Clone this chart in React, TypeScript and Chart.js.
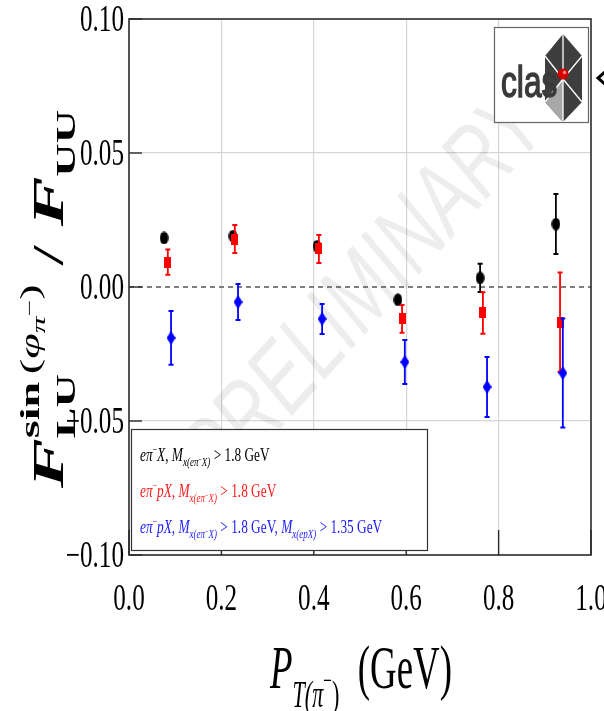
import React, { useEffect, useRef } from 'react';
import { Chart, registerables } from 'chart.js';

Chart.register(...registerables);

// ---------------- data ----------------
const blackX = [0.076, 0.225, 0.407, 0.582, 0.760, 0.924];
const blackY = [0.0183, 0.0190, 0.0152, -0.0048, 0.0034, 0.0235];
const blackErr = [0.0015, 0.0015, 0.0015, 0.0015, 0.0053, 0.0112];

const redX = [0.084, 0.229, 0.411, 0.591, 0.766, 0.933];
const redY = [0.0093, 0.0179, 0.0142, -0.0119, -0.0097, -0.0131];
const redErr = [0.0047, 0.0052, 0.0052, 0.0052, 0.0077, 0.0185];

const blueX = [0.091, 0.236, 0.418, 0.597, 0.775, 0.939];
const blueY = [-0.0190, -0.0056, -0.0119, -0.0280, -0.0373, -0.0321];
const blueErr = [0.0100, 0.0067, 0.0056, 0.0082, 0.0112, 0.0203];

const X_MIN = 0;
const X_MAX = 1;
const X_STEP = 0.2;
const Y_MIN = -0.1;
const Y_MAX = 0.1;
const Y_STEP = 0.05;

const COLORS = { black: '#000000', red: '#ff0000', blue: '#0000ff' };

// ---------------- text helpers ----------------
type Seg = { t: string; f?: 'r' | 'i' | 'b' | 'bi'; s?: number; dy?: number; na?: boolean };

const SERIF = '"Liberation Serif", "DejaVu Serif", serif';
const SANS = '"Liberation Sans", "DejaVu Sans", sans-serif';

const LEGEND_LINES: { color: string; segs: Seg[] }[] = [
  {
    color: '#000000',
    segs: [
      { t: 'eπ', f: 'i' }, { t: '−', s: 0.6, dy: 0.42 }, { t: 'X', f: 'i' }, { t: ', ' },
      { t: 'M', f: 'i' }, { t: 'x(eπ', f: 'i', s: 0.68, dy: -0.28 }, { t: '−', s: 0.45, dy: -0.05 },
      { t: 'X)', f: 'i', s: 0.68, dy: -0.28 }, { t: ' > 1.8 GeV' },
    ],
  },
  {
    color: '#ff1a1a',
    segs: [
      { t: 'eπ', f: 'i' }, { t: '−', s: 0.6, dy: 0.42 }, { t: 'pX', f: 'i' }, { t: ', ' },
      { t: 'M', f: 'i' }, { t: 'x(eπ', f: 'i', s: 0.68, dy: -0.28 }, { t: '−', s: 0.45, dy: -0.05 },
      { t: 'X)', f: 'i', s: 0.68, dy: -0.28 }, { t: ' > 1.8 GeV' },
    ],
  },
  {
    color: '#1a1aff',
    segs: [
      { t: 'eπ', f: 'i' }, { t: '−', s: 0.6, dy: 0.42 }, { t: 'pX', f: 'i' }, { t: ', ' },
      { t: 'M', f: 'i' }, { t: 'x(eπ', f: 'i', s: 0.68, dy: -0.28 }, { t: '−', s: 0.45, dy: -0.05 },
      { t: 'X)', f: 'i', s: 0.68, dy: -0.28 }, { t: ' > 1.8 GeV, ' },
      { t: 'M', f: 'i' }, { t: 'x(epX)', f: 'i', s: 0.68, dy: -0.28 }, { t: ' > 1.35 GeV' },
    ],
  },
];

const Y_TITLE: Seg[] = [
  { t: 'F', f: 'bi' },
  { t: 'LU', f: 'b', s: 0.62, dy: -0.28, na: true },
  { t: 'sin', f: 'b', s: 0.62, dy: 0.55 },
  { t: '(', s: 0.62, dy: 0.55 },
  { t: 'φ', f: 'i', s: 0.62, dy: 0.55 },
  { t: 'π', f: 'i', s: 0.45, dy: 0.42 },
  { t: '−', s: 0.4, dy: 0.64 },
  { t: ')', s: 0.62, dy: 0.55 },
  { t: ' / ' },
  { t: 'F', f: 'bi' },
  { t: 'UU', f: 'b', s: 0.62, dy: -0.28 },
];

const X_TITLE: Seg[] = [
  { t: 'P', f: 'i' },
  { t: 'T(π', f: 'i', s: 0.6, dy: -0.3 },
  { t: '−', s: 0.42, dy: -0.02 },
  { t: ')', s: 0.6, dy: -0.3 },
  { t: '  (GeV)' },
];

const WATERMARK = 'PRELIMINARY';
const LOGO_TEXT = 'clas';

function fontStr(f: string | undefined, size: number, family: string) {
  const it = f === 'i' || f === 'bi' ? 'italic ' : '';
  const bd = f === 'b' || f === 'bi' ? 'bold ' : '';
  return `${it}${bd}${size}px ${family}`;
}

function measureRich(ctx: CanvasRenderingContext2D, segs: Seg[], size: number, family: string) {
  let x = 0;
  let pend = 0;
  for (const g of segs) {
    ctx.font = fontStr(g.f, size * (g.s || 1), family);
    const w = ctx.measureText(g.t).width;
    if (g.na) pend = Math.max(pend, w);
    else {
      x += Math.max(w, pend);
      pend = 0;
    }
  }
  return x;
}

function drawRich(ctx: CanvasRenderingContext2D, segs: Seg[], size: number, family: string) {
  let x = 0;
  let pend = 0;
  ctx.textAlign = 'left';
  ctx.textBaseline = 'alphabetic';
  for (const g of segs) {
    ctx.font = fontStr(g.f, size * (g.s || 1), family);
    ctx.fillText(g.t, x, -(g.dy || 0) * size);
    const w = ctx.measureText(g.t).width;
    if (g.na) pend = Math.max(pend, w);
    else {
      x += Math.max(w, pend);
      pend = 0;
    }
  }
}

function fmtTick(v: number, digits: number) {
  const a = Math.abs(v) < 1e-9 ? 0 : v;
  return a.toFixed(digits).replace('-', '−');
}

function makeMarker(kind: 'ellipse' | 'rect' | 'diamond', color: string) {
  const c = document.createElement('canvas');
  const g = c.getContext('2d')!;
  if (kind === 'ellipse') {
    c.width = 9; c.height = 13;
    g.fillStyle = color;
    g.beginPath();
    g.ellipse(4.5, 6.5, 4.3, 6.3, 0, 0, Math.PI * 2);
    g.fill();
  } else if (kind === 'rect') {
    c.width = 7; c.height = 11;
    g.fillStyle = color;
    g.fillRect(0, 0, 7, 11);
  } else {
    c.width = 9; c.height = 14;
    g.fillStyle = color;
    g.beginPath();
    g.moveTo(4.5, 0); g.lineTo(9, 7); g.lineTo(4.5, 14); g.lineTo(0, 7);
    g.closePath();
    g.fill();
  }
  return c;
}

function drawLogo(ctx: CanvasRenderingContext2D) {
  ctx.save();
  ctx.fillStyle = '#ffffff';
  ctx.fillRect(494, 27, 94, 95);
  ctx.strokeStyle = '#666666';
  ctx.lineWidth = 1.2;
  ctx.strokeRect(494.5, 27.5, 94, 95);
  const cx = 563, cy = 79;
  const pts = [[563, 34], [582, 56], [582, 102], [563, 122], [545, 102], [545, 56]];
  ctx.fillStyle = '#3e3e3e';
  ctx.beginPath();
  pts.forEach((p, i) => (i ? ctx.lineTo(p[0], p[1]) : ctx.moveTo(p[0], p[1])));
  ctx.closePath();
  ctx.fill();
  ctx.fillStyle = '#a8a8a8';
  ctx.beginPath();
  ctx.moveTo(cx, cy); ctx.lineTo(545, 102); ctx.lineTo(563, 122); ctx.closePath();
  ctx.fill();
  ctx.strokeStyle = '#ffffff';
  ctx.lineWidth = 1.3;
  pts.forEach((p) => {
    ctx.beginPath(); ctx.moveTo(cx, cy); ctx.lineTo(p[0], p[1]); ctx.stroke();
  });
  ctx.fillStyle = '#d40000';
  ctx.beginPath(); ctx.arc(563, 74, 5.5, 0, Math.PI * 2); ctx.fill();
  ctx.fillStyle = '#ff8080';
  ctx.beginPath(); ctx.arc(564.5, 72.5, 1.8, 0, Math.PI * 2); ctx.fill();
  ctx.save();
  ctx.translate(501, 97);
  ctx.scale(0.72, 1);
  ctx.fillStyle = '#3a3a3a';
  ctx.font = `44px ${SANS}`;
  ctx.textBaseline = 'alphabetic';
  ctx.lineWidth = 1.5;
  ctx.strokeStyle = '#3a3a3a';
  ctx.fillText(LOGO_TEXT, 0, 0);
  ctx.strokeText(LOGO_TEXT, 0, 0);
  ctx.restore();
  // cropped arrow at the right edge
  ctx.strokeStyle = '#000';
  ctx.lineWidth = 3;
  ctx.beginPath(); ctx.moveTo(606, 71); ctx.lineTo(598, 78); ctx.lineTo(606, 85); ctx.stroke();
  ctx.restore();
}

const customPlugin = {
  id: 'customDecor',
  beforeDraw(chart: any) {
    const ctx = chart.ctx as CanvasRenderingContext2D;
    ctx.save();
    ctx.fillStyle = '#ffffff';
    ctx.fillRect(0, 0, chart.width, chart.height);
    ctx.restore();
  },
  beforeDatasetsDraw(chart: any) {
    const ctx = chart.ctx as CanvasRenderingContext2D;
    const a = chart.chartArea;
    const ys = chart.scales.y;
    // watermark
    ctx.save();
    ctx.beginPath();
    ctx.rect(a.left, a.top, a.right - a.left, a.bottom - a.top);
    ctx.clip();
    ctx.translate(366, 292);
    ctx.rotate((-48 * Math.PI) / 180);
    ctx.font = `italic 100px ${SANS}`;
    const w = ctx.measureText(WATERMARK).width;
    ctx.scale(490 / w, 1);
    ctx.fillStyle = 'rgba(0,0,0,0.07)';
    ctx.textAlign = 'center';
    ctx.textBaseline = 'middle';
    ctx.fillText(WATERMARK, 0, 0);
    ctx.restore();
    // zero dashed line
    const y0 = ys.getPixelForValue(0);
    ctx.save();
    ctx.strokeStyle = '#555555';
    ctx.lineWidth = 1.3;
    ctx.setLineDash([5, 4]);
    ctx.beginPath();
    ctx.moveTo(a.left, y0);
    ctx.lineTo(a.right, y0);
    ctx.stroke();
    ctx.restore();
  },
  beforeDatasetDraw(chart: any, args: any) {
    const ds = chart.data.datasets[args.index];
    const errs: number[] = ds.errors;
    if (!errs) return;
    const ctx = chart.ctx as CanvasRenderingContext2D;
    const xs = chart.scales.x;
    const ys = chart.scales.y;
    ctx.save();
    ctx.strokeStyle = ds.errColor;
    ds.data.forEach((p: any, i: number) => {
      const px = xs.getPixelForValue(p.x);
      const y1 = ys.getPixelForValue(p.y + errs[i]);
      const y2 = ys.getPixelForValue(p.y - errs[i]);
      ctx.lineWidth = 1.8;
      ctx.beginPath(); ctx.moveTo(px, y1); ctx.lineTo(px, y2); ctx.stroke();
      ctx.lineWidth = 2;
      ctx.beginPath();
      ctx.moveTo(px - 2.5, y1); ctx.lineTo(px + 2.5, y1);
      ctx.moveTo(px - 2.5, y2); ctx.lineTo(px + 2.5, y2);
      ctx.stroke();
    });
    ctx.restore();
  },
  afterDraw(chart: any) {
    const ctx = chart.ctx as CanvasRenderingContext2D;
    const a = chart.chartArea;
    const xs = chart.scales.x;
    const ys = chart.scales.y;
    ctx.save();
    // frame
    ctx.strokeStyle = '#2a2a2a';
    ctx.lineWidth = 1.6;
    ctx.strokeRect(a.left, a.top, a.right - a.left, a.bottom - a.top);
    // inward ticks
    ctx.lineWidth = 1.4;
    ys.ticks.forEach((t: any) => {
      const y = ys.getPixelForValue(t.value);
      ctx.beginPath(); ctx.moveTo(a.left, y); ctx.lineTo(a.left + 13, y); ctx.stroke();
    });
    xs.ticks.forEach((t: any) => {
      const x = xs.getPixelForValue(t.value);
      ctx.beginPath(); ctx.moveTo(x, a.bottom); ctx.lineTo(x, a.bottom - 25); ctx.stroke();
    });
    // tick labels
    const TS = 37;
    const TSX = 0.68;
    ctx.fillStyle = '#000';
    ctx.font = `${TS}px ${SERIF}`;
    ctx.textBaseline = 'alphabetic';
    ys.ticks.forEach((t: any) => {
      const y = ys.getPixelForValue(t.value);
      const s = fmtTick(t.value, 2);
      const w = ctx.measureText(s).width * TSX;
      ctx.save();
      ctx.translate(a.left - 5 - w, y + TS * 0.33);
      ctx.scale(TSX, 1);
      ctx.fillText(s, 0, 0);
      ctx.restore();
    });
    xs.ticks.forEach((t: any) => {
      const x = xs.getPixelForValue(t.value);
      const s = fmtTick(t.value, 1);
      const w = ctx.measureText(s).width * TSX;
      ctx.save();
      ctx.translate(x - w / 2, 610);
      ctx.scale(TSX, 1);
      ctx.fillText(s, 0, 0);
      ctx.restore();
    });
    // legend box
    ctx.fillStyle = '#ffffff';
    ctx.fillRect(131, 429, 296, 121);
    ctx.strokeStyle = '#333333';
    ctx.lineWidth = 1.2;
    ctx.strokeRect(131.5, 429.5, 296, 121);
    const LS = 19;
    const LSX = 0.7;
    const baselines = [461, 497, 533];
    LEGEND_LINES.forEach((ln, i) => {
      ctx.save();
      ctx.translate(140, baselines[i]);
      ctx.scale(LSX, 1);
      ctx.fillStyle = ln.color;
      drawRich(ctx, ln.segs, LS, SERIF);
      ctx.restore();
    });
    // x title
    {
      const S = 62;
      const W = measureRich(ctx, X_TITLE, S, SERIF);
      ctx.save();
      ctx.translate(270, 688);
      ctx.scale(182 / W, 1);
      ctx.fillStyle = '#000';
      drawRich(ctx, X_TITLE, S, SERIF);
      ctx.restore();
    }
    // y title
    {
      const S = 44;
      const W = measureRich(ctx, Y_TITLE, S, SERIF);
      ctx.save();
      ctx.translate(63, 488);
      ctx.rotate(-Math.PI / 2);
      ctx.scale(378 / W, 1);
      ctx.fillStyle = '#000';
      drawRich(ctx, Y_TITLE, S, SERIF);
      ctx.restore();
    }
    ctx.restore();
    drawLogo(ctx);
  },
};

export default function App() {
  const ref = useRef<HTMLCanvasElement | null>(null);

  useEffect(() => {
    if (!ref.current) return;
    const mk = (xs: number[], ys: number[]) => xs.map((x, i) => ({ x, y: ys[i] }));
    const chart = new Chart(ref.current, {
      type: 'scatter',
      data: {
        datasets: [
          {
            label: 'black',
            data: mk(blackX, blackY),
            errors: blackErr,
            errColor: COLORS.black,
            pointStyle: makeMarker('ellipse', COLORS.black),
            pointRadius: 5,
            order: 3,
          } as any,
          {
            label: 'red',
            data: mk(redX, redY),
            errors: redErr,
            errColor: COLORS.red,
            pointStyle: makeMarker('rect', COLORS.red),
            pointRadius: 5,
            order: 2,
          } as any,
          {
            label: 'blue',
            data: mk(blueX, blueY),
            errors: blueErr,
            errColor: COLORS.blue,
            pointStyle: makeMarker('diamond', COLORS.blue),
            pointRadius: 5,
            order: 1,
          } as any,
        ],
      },
      options: {
        responsive: false,
        animation: false,
        devicePixelRatio: 1,
        layout: { padding: { left: 129, top: 19, right: 13, bottom: 156 } },
        plugins: {
          legend: { display: false },
          tooltip: { enabled: false },
          title: { display: false },
        },
        scales: {
          x: {
            type: 'linear',
            min: X_MIN,
            max: X_MAX,
            ticks: { stepSize: X_STEP, display: false },
            grid: {
              drawTicks: false,
              lineWidth: 1.2,
              color: (c: any) => {
                const v = c.tick ? c.tick.value : 0;
                return Math.abs(v - X_MIN) < 1e-9 || Math.abs(v - X_MAX) < 1e-9 ? 'rgba(0,0,0,0)' : '#d6d6d6';
              },
            },
            border: { display: false },
          },
          y: {
            type: 'linear',
            min: Y_MIN,
            max: Y_MAX,
            ticks: { stepSize: Y_STEP, display: false },
            grid: {
              drawTicks: false,
              lineWidth: 1.2,
              color: (c: any) => {
                const v = c.tick ? c.tick.value : 0;
                return Math.abs(v) < 1e-9 || Math.abs(Math.abs(v) - 0.1) < 1e-9 ? 'rgba(0,0,0,0)' : '#d6d6d6';
              },
            },
            border: { display: false },
          },
        },
      } as any,
      plugins: [customPlugin as any],
    });
    return () => chart.destroy();
  }, []);

  return (
    <div style={{ position: 'absolute', left: 0, top: 0, width: 604, height: 711, background: '#fff' }}>
      <canvas ref={ref} width={604} height={711} style={{ display: 'block', width: 604, height: 711 }} />
    </div>
  );
}
